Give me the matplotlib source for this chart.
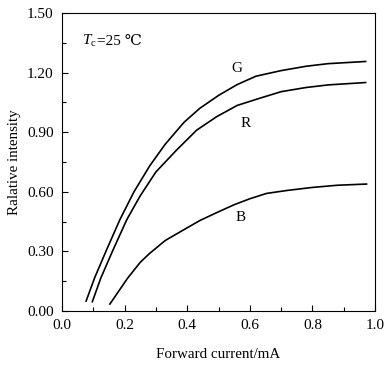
import matplotlib
matplotlib.use("Agg")
import matplotlib.pyplot as plt
from matplotlib.ticker import MultipleLocator, FormatStrFormatter
from matplotlib.transforms import offset_copy

plt.rcParams['font.family'] = ['Liberation Serif', 'DejaVu Serif', 'DejaVu Sans']
plt.rcParams['mathtext.fontset'] = 'custom'
plt.rcParams['mathtext.rm'] = 'Liberation Serif'
plt.rcParams['mathtext.it'] = 'Liberation Serif:italic'

g_x = [0.077, 0.105, 0.143, 0.185, 0.23, 0.28, 0.33, 0.39, 0.44, 0.50, 0.56, 0.62, 0.70, 0.78, 0.85, 0.97]
g_y = [0.05, 0.17, 0.31, 0.46, 0.60, 0.73, 0.84, 0.95, 1.02, 1.085, 1.14, 1.182, 1.21, 1.232, 1.245, 1.256]
r_x = [0.097, 0.124, 0.163, 0.207, 0.25, 0.30, 0.366, 0.43, 0.494, 0.56, 0.63, 0.70, 0.78, 0.85, 0.97]
r_y = [0.047, 0.166, 0.307, 0.46, 0.58, 0.70, 0.81, 0.91, 0.978, 1.035, 1.07, 1.104, 1.125, 1.138, 1.15]
b_x = [0.153, 0.21, 0.25, 0.28, 0.33, 0.388, 0.44, 0.494, 0.55, 0.60, 0.654, 0.72, 0.80, 0.88, 0.973]
b_y = [0.035, 0.166, 0.245, 0.29, 0.355, 0.408, 0.455, 0.495, 0.535, 0.565, 0.592, 0.607, 0.622, 0.633, 0.639]

fig = plt.figure(figsize=(3.9, 3.66), dpi=100)
ax = fig.add_axes([62/390, 55/366, 313/390, 298/366])

for xs, ys in [(g_x, g_y), (r_x, r_y), (b_x, b_y)]:
    ax.plot(xs, ys, color='black', lw=1.2)

ax.text(0.558, 1.222, 'G', fontsize=11, ha='center', va='center')
ax.text(0.588, 0.945, 'R', fontsize=11, ha='center', va='center')
ax.text(0.571, 0.472, 'B', fontsize=11, ha='center', va='center')
ax.text(0.063, 1.34, r'$T_{\rm c}$', fontsize=11, ha='left', va='baseline')
ax.text(0.063, 1.34, '=25 ℃', fontsize=11, ha='left', va='baseline',
        transform=offset_copy(ax.transData, fig=fig, x=11, y=0, units='points'))

ax.set_xlim(0, 1.0)
ax.set_ylim(0, 1.5)
ax.xaxis.set_major_locator(MultipleLocator(0.2))
ax.xaxis.set_minor_locator(MultipleLocator(0.1))
ax.yaxis.set_major_locator(MultipleLocator(0.3))
ax.yaxis.set_minor_locator(MultipleLocator(0.15))
ax.xaxis.set_major_formatter(FormatStrFormatter('%.1f'))
ax.yaxis.set_major_formatter(FormatStrFormatter('%.2f'))
ax.tick_params(which='both', direction='in', top=False, right=False, labelsize=11, width=0.8)
ax.tick_params(which='major', length=4)
ax.tick_params(axis='y', which='major', pad=6)
ax.tick_params(axis='x', which='major', pad=6)
ax.tick_params(which='minor', length=3)
for s in ax.spines.values():
    s.set_linewidth(0.8)

ax.set_xlabel('Forward current/mA', fontsize=10.8, labelpad=11)
ax.set_ylabel('Ralative intensity', fontsize=10.8, labelpad=4)

fig.savefig('out.png', dpi=100)
